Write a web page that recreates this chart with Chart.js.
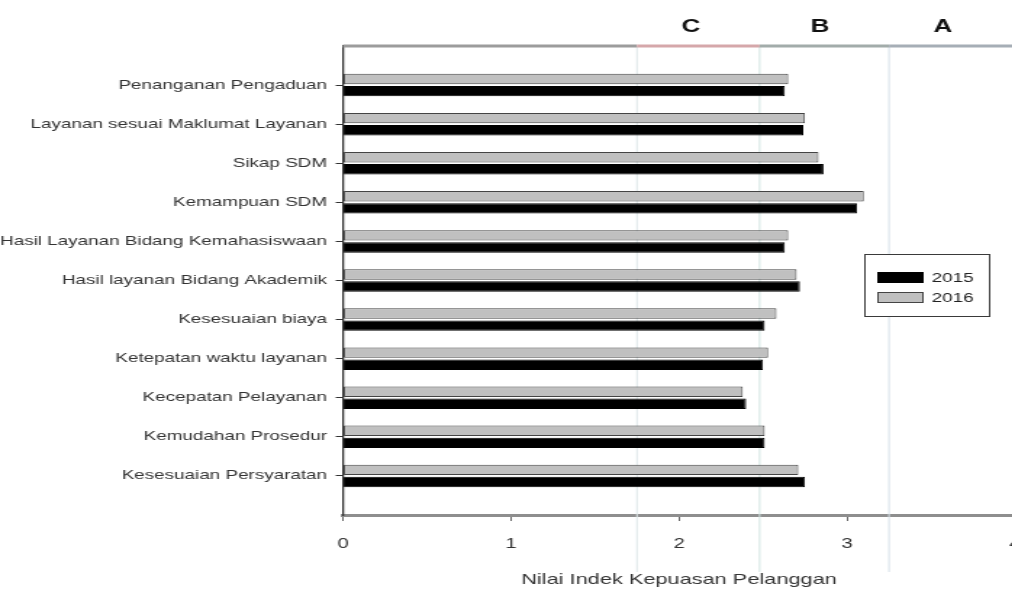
<!DOCTYPE html>
<html><head><meta charset="utf-8">
<script src="https://cdn.jsdelivr.net/npm/chart.js@4.4.1/dist/chart.umd.min.js"></script>
<style>
html,body{margin:0;padding:0;background:#fff;overflow:hidden;width:1012px;height:597px}
#wrap{width:720px;height:597px;transform:scaleX(1.45);transform-origin:0 0}
canvas{display:block}
</style></head><body>
<div id="wrap"><canvas id="c" width="720" height="597"></canvas></div>
<script>
// ---- data ----
const categories = [
  'Penanganan Pengaduan',
  'Layanan sesuai Maklumat Layanan',
  'Sikap SDM',
  'Kemampuan SDM',
  'Hasil Layanan Bidang Kemahasiswaan',
  'Hasil layanan Bidang Akademik',
  'Kesesuaian biaya',
  'Ketepatan waktu layanan',
  'Kecepatan Pelayanan',
  'Kemudahan Prosedur',
  'Kesesuaian Persyaratan'
];
const values2015 = [2.63, 2.74, 2.86, 3.06, 2.63, 2.72, 2.51, 2.50, 2.40, 2.51, 2.75];
const values2016 = [2.65, 2.75, 2.83, 3.10, 2.65, 2.70, 2.58, 2.53, 2.38, 2.51, 2.71];
const seriesNames = ['2015', '2016'];
const xTickValues = [0, 1, 2, 3, 4];
const zoneBounds = [1.75, 2.48, 3.25, 4];
const zoneNames = ['C', 'B', 'A'];
const zoneLabelAt = [2.07, 2.84, 3.57];
const axisTitle = 'Nilai Indek Kepuasan Pelanggan';

// ---- layout helpers ----
const S = 1.45;                 // horizontal stretch of the whole figure
const FONT = "'Liberation Sans', Arial, sans-serif";
const labels = [''].concat(categories, ['']);
const pad = arr => [null].concat(arr, [null]);

const zonePlugin = {
  id: 'zones',
  beforeDatasetsDraw(chart) {
    const {ctx, chartArea: a, scales: {x}} = chart;
    const cols = ['#dde6e8', '#d0e4e1', '#d6e0e8'];
    ctx.save();
    ctx.lineWidth = 1;
    for (let i = 0; i < 3; i++) {
      const px = x.getPixelForValue(zoneBounds[i]);
      ctx.strokeStyle = cols[i];
      ctx.beginPath(); ctx.moveTo(px, a.top); ctx.lineTo(px, 572); ctx.stroke();
    }
    ctx.restore();
  },
  afterDraw(chart) {
    const {ctx, chartArea: a, scales: {x}} = chart;
    ctx.save();
    // top frame line, coloured per zone
    const segs = [[0, zoneBounds[0], '#9c9c9c'], [zoneBounds[0], zoneBounds[1], '#d5a7aa'],
                  [zoneBounds[1], zoneBounds[2], '#a2acaa'], [zoneBounds[2], zoneBounds[3], '#a6aeb6']];
    ctx.lineWidth = 3;
    segs.forEach(s => {
      ctx.strokeStyle = s[2];
      ctx.beginPath();
      ctx.moveTo(x.getPixelForValue(s[0]), a.top);
      ctx.lineTo(x.getPixelForValue(s[1]), a.top);
      ctx.stroke();
    });
    // zone letters
    ctx.fillStyle = '#111';
    ctx.font = 'bold 18px ' + FONT;
    ctx.textAlign = 'center';
    ctx.textBaseline = 'middle';
    zoneNames.forEach((n, i) => ctx.fillText(n, x.getPixelForValue(zoneLabelAt[i]), 27));
    // legend box
    const bx = 596, by = 254, bw = 86, bh = 62;
    ctx.fillStyle = '#fff';
    ctx.fillRect(bx, by, bw, bh);
    ctx.strokeStyle = '#3a3a3a';
    ctx.lineWidth = 1;
    ctx.strokeRect(bx + 0.5, by + 0.5, bw, bh);
    const ds = chart.data.datasets.slice().reverse();
    ctx.font = '13px ' + FONT;
    ctx.textAlign = 'left';
    ds.forEach((d, i) => {
      const y = 272 + i * 20;
      ctx.fillStyle = d.backgroundColor;
      ctx.fillRect(605.5, y, 31, 11);
      ctx.strokeStyle = d.borderColor;
      ctx.strokeRect(605.5, y + 0.5, 31, 10);
      ctx.fillStyle = '#222';
      ctx.fillText(d.label, 642.5, y + 6);
    });
    ctx.restore();
  }
};

new Chart(document.getElementById('c'), {
  type: 'bar',
  data: {
    labels: labels,
    datasets: [
      {label: seriesNames[1], data: pad(values2016), backgroundColor: '#c0c0c0', borderColor: '#444444', borderWidth: 1, borderSkipped: false},
      {label: seriesNames[0], data: pad(values2015), backgroundColor: '#000000', borderColor: '#000000', borderWidth: 1}
    ]
  },
  options: {
    indexAxis: 'y',
    responsive: false,
    animation: false,
    devicePixelRatio: 1,
    categoryPercentage: 0.62,
    barPercentage: 0.86,
    layout: {padding: {top: 46, right: 20, bottom: 0, left: 0}},
    plugins: {legend: {display: false}, tooltip: {enabled: false}},
    scales: {
      x: {
        type: 'linear', min: 0, max: 4,
        afterBuildTicks: s => { s.ticks = xTickValues.map(v => ({value: v})); },
        afterFit: s => { s.height = 82; },
        grid: {drawOnChartArea: false, drawTicks: true, tickLength: 6, color: '#666'},
        border: {display: true, color: '#8e8e8e', width: 3},
        ticks: {color: '#333', font: {family: FONT, size: 14}, padding: 15, maxRotation: 0},
        title: {display: true, text: axisTitle, color: '#333', font: {family: FONT, size: 15}, padding: {top: 0, bottom: 8}}
      },
      y: {
        type: 'category', offset: false,
        afterFit: s => { s.width = 343 / S; },
        grid: {offset: false, drawOnChartArea: false, drawTicks: true, tickLength: 5,
               color: c => (c.index === 0 || c.index === labels.length - 1) ? 'rgba(0,0,0,0)' : '#333'},
        border: {display: true, color: '#333', width: 1.3},
        ticks: {autoSkip: false, color: '#333', font: {family: FONT, size: 13}, padding: 6}
      }
    }
  },
  plugins: [zonePlugin]
});
</script>
</body></html>
